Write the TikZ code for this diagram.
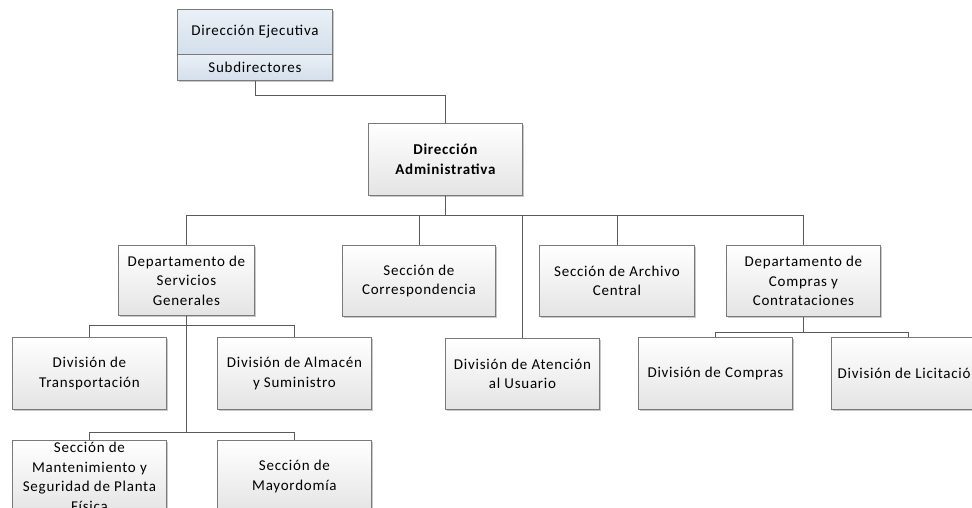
\documentclass[tikz,border=0pt]{standalone}
\usepackage{fontspec}
\setmainfont{Carlito}[LetterSpace=5]
\begin{document}
\begin{tikzpicture}[x=1pt,y=-1pt,
  box/.style={draw=boxline, line width=0.9pt, top color=white, bottom color=boxfill, shade,
    align=center, inner sep=2pt, font=\fontsize{15}{19.5}\selectfont, anchor=north west},
  bluebox/.style={box, top color=blueA, bottom color=blueB},
  conn/.style={draw=linecol, line width=0.9pt}]
\definecolor{boxline}{HTML}{7A7A7A}
\definecolor{boxfill}{HTML}{E4E4E4}
\definecolor{linecol}{HTML}{5A5A5A}
\definecolor{blueA}{HTML}{EAF0F6}
\definecolor{blueB}{HTML}{D3DFEB}
\definecolor{shadowc}{HTML}{C8C8C8}
\useasboundingbox (0,0) rectangle (972,508);
\clip (0,0) rectangle (972,508);
% shadows
\foreach \a/\b/\c/\d in {177/9/332/80, 368/123/522/195, 118/245/254/315, 342/245/495/316, 539/245/694/316, 726/245/880/316, 445/338/599/409, 12/337/166/409, 217/337/371/409, 12/440/166/512, 217/440/371/512, 638/337/792/409, 831/337/985/409}
  \fill[shadowc] (\a+2,\b+2) rectangle (\c+2,\d+2);
% nodes
\node[bluebox, minimum width=155pt, minimum height=45pt] (dej) at (177,9) {Dirección Ejecutiva};
\node[bluebox, minimum width=155pt, minimum height=26pt] (sub) at (177,54) {Subdirectores};
\node[box, minimum width=154pt, minimum height=72pt, font=\fontsize{15}{19.5}\selectfont\bfseries] (adm) at (368,123) {Dirección\\Administrativa};
\node[box, minimum width=136pt, minimum height=70pt] (sg) at (118,245) {Departamento de\\Servicios\\Generales};
\node[box, minimum width=153pt, minimum height=71pt] (cor) at (342,245) {Sección de\\Correspondencia};
\node[box, minimum width=155pt, minimum height=71pt] (arc) at (539,245) {Sección de Archivo\\Central};
\node[box, minimum width=154pt, minimum height=71pt] (cyc) at (726,245) {Departamento de\\Compras y\\Contrataciones};
\node[box, minimum width=154pt, minimum height=71pt] (ate) at (445,338) {División de Atención\\al Usuario};
\node[box, minimum width=154pt, minimum height=72pt] (tra) at (12,337) {División de\\Transportación};
\node[box, minimum width=154pt, minimum height=72pt] (alm) at (217,337) {División de Almacén\\y Suministro};
\node[box, minimum width=154pt, minimum height=72pt] (man) at (12,440) {Sección de\\Mantenimiento y\\Seguridad de Planta\\Física};
\node[box, minimum width=154pt, minimum height=72pt] (may) at (217,440) {Sección de\\Mayordomía};
\node[box, minimum width=154pt, minimum height=72pt] (com) at (638,337) {División de Compras};
\node[box, minimum width=154pt, minimum height=72pt] (lic) at (831,337) {División de Licitación};
% connectors
\draw[conn] (sub.south) -- ++(0,15) -| (adm.north);
\foreach \t in {sg,cor,ate,arc,cyc}
  \draw[conn] (adm.south) -- ++(0,20) -| (\t.north);
\draw[conn] (sg.south) -- ++(0,10) -| (tra.north);
\draw[conn] (sg.south) -- ++(0,10) -| (alm.north);
\draw[conn] (sg.south) -- ++(0,117) -| (man.north);
\draw[conn] (sg.south) -- ++(0,117) -| (may.north);
\draw[conn] (cyc.south) -- ++(0,16) -| (com.north);
\draw[conn] (cyc.south) -- ++(0,16) -| (lic.north);
\end{tikzpicture}
\end{document}
